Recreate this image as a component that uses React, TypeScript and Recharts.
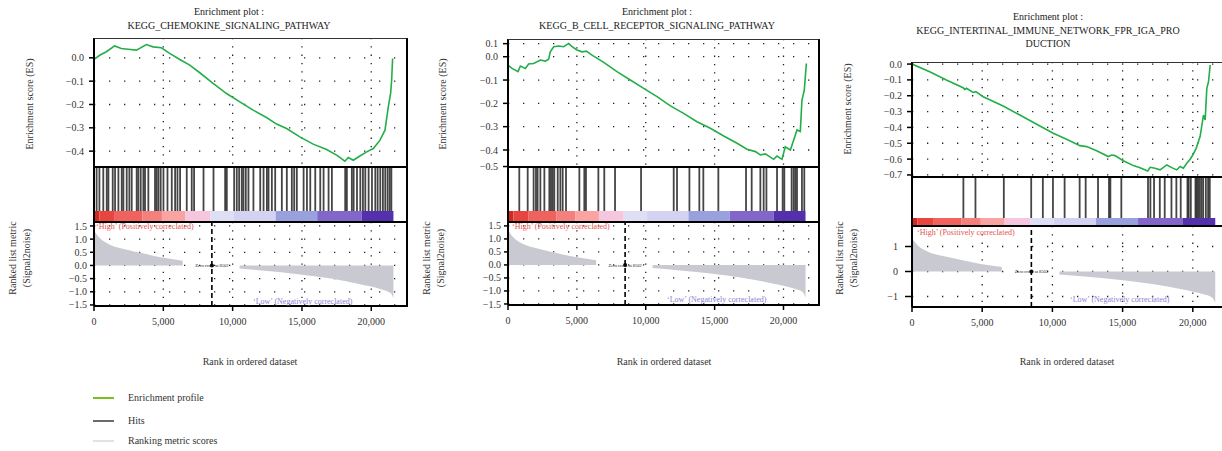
import React from "react"
import {
  Area,
  CartesianGrid,
  ComposedChart,
  Line,
  LineChart,
  ReferenceArea,
  ReferenceDot,
  ReferenceLine,
  XAxis,
  YAxis,
} from "recharts"

const FONT = '"Liberation Serif", "DejaVu Serif", serif'

// shared x axis (rank in ordered dataset)
const xTicks = [0, 5000, 10000, 15000, 20000]
const xMax = 22650

// ranked list metric (same list in all three plots)
const metricRanks = [0, 400, 1100, 2300, 3600, 4800, 6400, 8502, 10500, 12300, 14700, 17100, 19100, 20700, 21400, 21600]
const metricValues = [1.33, 1.05, 0.8, 0.61, 0.45, 0.31, 0.18, null, -0.12, -0.2, -0.33, -0.5, -0.7, -0.9, -1.05, -1.25]

// colour band under the hits
const bandStops = [0, 400, 1500, 3500, 4900, 6600, 8400, 10100, 13100, 16100, 19300, 21600]
const bandColors = ["#cf2a22", "#e9453f", "#f1625e", "#f47f7d", "#f9a3a2", "#f5c6dd", "#dedff5", "#d3d2f2", "#98a0dd", "#8366c9", "#5530ae"]

// plot 1: chemokine
const es1Ranks = [0, 410, 890, 1490, 1970, 2460, 3060, 3780, 4260, 4860, 5460, 6190, 6910, 7630, 8590, 9560, 10520, 11480, 12440, 13170, 13890, 14850, 15810, 16780, 17500, 18100, 18340, 18700, 19180, 19670, 20150, 20630, 20990, 21230, 21400, 21470, 21540]
const es1Scores = [-0.007, 0.011, 0.026, 0.051, 0.04, 0.037, 0.033, 0.057, 0.047, 0.043, 0.019, -0.007, -0.031, -0.064, -0.11, -0.153, -0.189, -0.224, -0.256, -0.284, -0.303, -0.339, -0.37, -0.393, -0.417, -0.443, -0.427, -0.439, -0.421, -0.403, -0.389, -0.353, -0.31, -0.21, -0.15, -0.096, -0.003]
const hits1 = [190, 390, 670, 920, 1040, 1350, 1520, 1760, 2000, 2120, 2360, 2550, 2720, 3080, 3200, 3370, 3560, 3680, 3920, 4400, 4520, 4650, 4810, 5010, 5300, 5610, 5850, 6020, 6210, 6690, 7050, 7220, 7900, 8620, 9460, 9580, 10110, 10300, 10470, 10660, 10780, 10950, 11140, 11500, 11990, 12230, 12470, 12590, 12830, 13070, 13550, 13910, 14270, 14440, 14630, 15120, 15360, 15600, 15960, 16320, 16560, 16920, 17160, 18120, 18240, 18600, 18730, 18970, 19210, 19400, 19570, 19810, 20050, 20290, 20460, 20650, 20840, 21010, 21180, 21330, 21450]
const es1Ticks = [0, -0.1, -0.2, -0.3, -0.4]
const es1Labels = ["0.0", "\u22120.1", "\u22120.2", "\u22120.3", "\u22120.4"]

// plot 2: B cell receptor
const es2Ranks = [0, 290, 730, 900, 1260, 1500, 1860, 2350, 2710, 2950, 3070, 3320, 3680, 4040, 4400, 4650, 5010, 5370, 5690, 6100, 6950, 7910, 8880, 9850, 10820, 11790, 12750, 13720, 14690, 15660, 16630, 17350, 17960, 18320, 18680, 19290, 19530, 19890, 20130, 20500, 20740, 20980, 21220, 21340, 21510, 21660]
const es2Scores = [-0.036, -0.05, -0.064, -0.04, -0.05, -0.031, -0.029, -0.014, -0.019, -0.011, 0.021, 0.043, 0.046, 0.043, 0.057, 0.043, 0.029, 0.021, 0.024, 0.007, -0.024, -0.064, -0.1, -0.136, -0.171, -0.211, -0.243, -0.279, -0.307, -0.34, -0.371, -0.397, -0.407, -0.421, -0.417, -0.44, -0.426, -0.44, -0.386, -0.4, -0.357, -0.314, -0.321, -0.186, -0.143, -0.029]
const hits2 = [820, 1430, 1860, 2030, 2150, 2350, 2640, 3000, 3120, 3240, 3360, 3610, 3800, 3970, 4210, 5180, 5540, 5660, 6560, 6990, 7770, 9660, 12030, 12270, 13170, 13890, 14180, 15270, 17280, 17690, 18320, 18560, 18760, 19530, 19940, 20060, 20590, 20740, 20860, 20980, 21340, 21510]
const es2Ticks = [0.056, 0, -0.1, -0.2, -0.3, -0.4, -0.471]
const es2Labels = ["0.1", "0.0", "\u22120.1", "\u22120.2", "\u22120.3", "\u22120.4", "\u22120.5"]

// plot 3: intestinal immune network
const es3Ranks = [0, 1260, 2450, 3640, 3760, 3880, 4350, 4540, 5070, 6490, 7680, 9110, 10060, 11010, 11960, 12440, 13150, 13980, 14220, 14460, 15050, 15770, 16240, 16790, 16960, 17310, 17670, 18150, 18500, 18860, 19100, 19330, 19570, 19810, 20000, 20240, 20520, 20760, 20880, 21000, 21120, 21240]
const es3Scores = [0.0, -0.048, -0.101, -0.149, -0.16, -0.153, -0.179, -0.174, -0.206, -0.265, -0.322, -0.391, -0.437, -0.475, -0.515, -0.521, -0.547, -0.584, -0.574, -0.578, -0.61, -0.641, -0.654, -0.675, -0.652, -0.658, -0.668, -0.637, -0.654, -0.668, -0.647, -0.658, -0.626, -0.601, -0.574, -0.532, -0.458, -0.322, -0.353, -0.153, -0.111, -0.006]
const hits3 = [3660, 4520, 6540, 8490, 9320, 10040, 10870, 11940, 12370, 13250, 14030, 14130, 14910, 16810, 16980, 17240, 17650, 18000, 18480, 18830, 19140, 19620, 19710, 19860, 20190, 20280, 20380, 20500, 20620, 20740, 20930, 21090, 21210]
const es3Ticks = [0, -0.1, -0.2, -0.3, -0.4, -0.5, -0.6, -0.7]
const es3Labels = ["0.0", "\u22120.1", "\u22120.2", "\u22120.3", "\u22120.4", "\u22120.5", "\u22120.6", "\u22120.7"]

const rankTicksA = [1.5, 1, 0.5, 0, -0.5, -1, -1.5]
const rankLabelsA = ["1.5", "1.0", "0.5", "0.0", "\u22120.5", "\u22121.0", "\u22121.5"]
const rankTicksB = [1, 0, -1]
const rankLabelsB = ["1", "0", "\u22121"]

const panels = [
  {
    title: ["Enrichment plot :", "KEGG_CHEMOKINE_SIGNALING_PATHWAY"], titleCx: 229, titleY: 12,
    left: 94.3, width: 314, esTop: 38, esBottom: 167, hitsBottom: 222, barH: 11, rankBottom: 306,
    esRanks: es1Ranks, esScores: es1Scores, hits: hits1,
    esDomain: [-0.468, 0.085], esTicks: es1Ticks, esLabels: es1Labels,
    rankDomain: [-1.54, 1.65], rankTicks: rankTicksA, rankLabels: rankLabelsA,
    esLab: [30, 104], rankLab: [20, 258], high: [96, 227], low: [253, 302], axisCx: 250, tickSize: 5, rankTickSize: 4,
  },
  {
    title: ["Enrichment plot :", "KEGG_B_CELL_RECEPTOR_SIGNALING_PATHWAY"], titleCx: 657, titleY: 12,
    left: 507.7, width: 312, esTop: 39, esBottom: 167, hitsBottom: 222, barH: 11, rankBottom: 305,
    esRanks: es2Ranks, esScores: es2Scores, hits: hits2,
    esDomain: [-0.473, 0.076], esTicks: es2Ticks, esLabels: es2Labels,
    rankDomain: [-1.54, 1.65], rankTicks: rankTicksA, rankLabels: rankLabelsA,
    esLab: [443, 104], rankLab: [434, 258], high: [512, 227], low: [667, 300], axisCx: 664, tickSize: 5, rankTickSize: 4,
  },
  {
    title: ["Enrichment plot :", "KEGG_INTERTINAL_IMMUNE_NETWORK_FPR_IGA_PRO", "DUCTION"], titleCx: 1048, titleY: 17,
    left: 912.3, width: 318, esTop: 62, esBottom: 177, hitsBottom: 226, barH: 8, rankBottom: 307,
    esRanks: es3Ranks, esScores: es3Scores, hits: hits3,
    esDomain: [-0.713, 0.013], esTicks: es3Ticks, esLabels: es3Labels,
    rankDomain: [-1.42, 1.82], rankTicks: rankTicksB, rankLabels: rankLabelsB,
    esLab: [848, 109], rankLab: [847, 258], high: [917, 233], low: [1070, 300], axisCx: 1067, tickSize: 5, rankTickSize: 7,
  },
]

const tickStyle = { fill: "#333", fontSize: 10, fontFamily: FONT }
const YW = 60
const noMargin = { top: 0, right: 0, bottom: 0, left: 0 }

function Txt({ x, y, children, size = 10, color = "#222", anchor = "center" }: any) {
  const style: any = {
    position: "absolute", top: y - size * 0.6, fontSize: size, color, whiteSpace: "nowrap", lineHeight: 1.2,
  }
  if (anchor === "center") {
    style.left = x - 250
    style.width = 500
    style.textAlign = "center"
  } else {
    style.left = x
  }
  return <div style={style}>{children}</div>
}

function Vertical({ x, y, lines }: any) {
  return (
    <div
      style={{
        position: "absolute", left: x, top: y, transform: "translate(-50%, -50%) rotate(-90deg)",
        whiteSpace: "nowrap", textAlign: "center", fontSize: 10, lineHeight: "14px", color: "#333",
      }}
    >
      {lines.map((l: string) => <div key={l}>{l}</div>)}
    </div>
  )
}

function Panel({ p }: any) {
  const esH = p.esBottom - p.esTop
  const hitsH = p.hitsBottom - p.esBottom
  const rankH = p.rankBottom - p.hitsBottom
  const chartLeft = p.left - YW
  const chartW = YW + p.width
  const barFrac = p.barH / hitsH
  const esRows = p.esRanks.map((r: number, i: number) => ({ rank: r, es: p.esScores[i] }))
  const hitRows = p.hits.map((h: number) => ({ rank: h, v: 1 }))
  const rankRows = metricRanks.map((r, i) => ({ rank: r, metric: metricValues[i] }))
  const fmt = (ticks: number[], labels: string[]) => (v: number) => labels[ticks.indexOf(v)] ?? String(v)

  return (
    <>
      {p.title.map((t: string, i: number) => (
        <Txt key={t} x={p.titleCx} y={p.titleY + i * 13.5}>{t}</Txt>
      ))}

      <div style={{ position: "absolute", left: chartLeft, top: p.esTop }}>
        <LineChart width={chartW} height={esH} data={esRows} margin={noMargin}>
          <CartesianGrid horizontal={false} verticalValues={xTicks} stroke="#222" strokeWidth={1.3} strokeDasharray="1.3 7" />
          <CartesianGrid vertical={false} horizontalValues={p.esTicks} stroke="#222" strokeWidth={1.3} strokeDasharray="1.3 13.7" />
          <XAxis type="number" dataKey="rank" domain={[0, xMax]} allowDataOverflow hide height={0} />
          <YAxis
            type="number" domain={p.esDomain} allowDataOverflow ticks={p.esTicks} interval={0} width={YW}
            tickFormatter={fmt(p.esTicks, p.esLabels)} tick={tickStyle}
            axisLine={{ stroke: "#000", strokeWidth: 2 }} tickLine={{ stroke: "#000", strokeWidth: 1.5 }}
            tickSize={p.tickSize} tickMargin={5}
          />
          <Line type="linear" dataKey="es" stroke="#22ae48" strokeWidth={1.6} dot={false} isAnimationActive={false} />
        </LineChart>
      </div>

      <div style={{ position: "absolute", left: chartLeft, top: p.esBottom }}>
        <ComposedChart width={chartW} height={hitsH} data={hitRows} margin={{ top: 0, right: 0, bottom: 0, left: YW }}>
          <XAxis type="number" dataKey="rank" domain={[0, xMax]} allowDataOverflow hide height={0} />
          <YAxis type="number" domain={[0, 1]} allowDataOverflow hide width={0} />
          {p.hits.map((h: number) => (
            <ReferenceLine
              key={h}
              segment={[{ x: h, y: barFrac }, { x: h, y: 1 }]}
              stroke="#111" strokeOpacity={0.78} strokeWidth={1.8}
            />
          ))}
          {bandColors.map((c, i) => (
            <ReferenceArea
              key={c + i}
              x1={bandStops[i]} x2={bandStops[i + 1]} y1={0} y2={barFrac}
              fill={c} fillOpacity={1} stroke="none"
            />
          ))}
        </ComposedChart>
      </div>

      <div style={{ position: "absolute", left: chartLeft, top: p.hitsBottom }}>
        <ComposedChart width={chartW} height={rankH + 30} data={rankRows} margin={noMargin}>
          <CartesianGrid horizontal={false} verticalValues={xTicks} stroke="#222" strokeWidth={1.3} strokeDasharray="1.3 7" />
          <CartesianGrid vertical={false} horizontalValues={p.rankTicks} stroke="#222" strokeWidth={1.3} strokeDasharray="1.3 13.7" />
          <XAxis
            type="number" dataKey="rank" domain={[0, xMax]} allowDataOverflow ticks={xTicks} interval={0} height={30}
            tickFormatter={(v: number) => v.toLocaleString("en-US")} tick={tickStyle}
            axisLine={{ stroke: "#000", strokeWidth: 2 }} tickLine={{ stroke: "#000", strokeWidth: 1.5 }}
            tickSize={5} tickMargin={7}
          />
          <YAxis
            type="number" domain={p.rankDomain} allowDataOverflow ticks={p.rankTicks} interval={0} width={YW}
            tickFormatter={fmt(p.rankTicks, p.rankLabels)} tick={tickStyle}
            axisLine={{ stroke: "#000", strokeWidth: 2 }} tickLine={{ stroke: "#000", strokeWidth: 1.5 }}
            tickSize={p.rankTickSize} tickMargin={p.rankTickSize > 5 ? 7 : 3}
          />
          <Area
            type="monotone" dataKey="metric" baseValue={0} connectNulls={false}
            stroke="none" fill="#c9c9d1" fillOpacity={1} isAnimationActive={false}
          />
          <ReferenceLine x={8502} stroke="#000" strokeWidth={1.6} strokeDasharray="5 3" />
          <ReferenceDot
            x={8502} y={0} r={2} fill="#000" stroke="none"
            label={{ value: "Zero cross at 8502", position: "center", fontSize: 4.5, fill: "#222", fontFamily: FONT }}
          />
        </ComposedChart>
      </div>

      {/* frame and panel separators */}
      <div
        style={{
          position: "absolute", left: p.left - 1, top: p.esTop, width: p.width + 1, height: p.rankBottom - p.esTop,
          borderTop: "1px solid #333", borderRight: "2px solid #000", borderLeft: "2px solid #000",
          boxSizing: "border-box", pointerEvents: "none",
        }}
      />
      <div style={{ position: "absolute", left: p.left, top: p.esBottom - 1, width: p.width, height: 2, background: "#000" }} />
      <div style={{ position: "absolute", left: p.left, top: p.hitsBottom - 1, width: p.width, height: 2, background: "#000" }} />

      <Txt x={p.high[0]} y={p.high[1]} size={8} color="#e5524b" anchor="left">{"\u2018High\u2019 (Positively correclated)"}</Txt>
      <Txt x={p.low[0]} y={p.low[1]} size={8} color="#8a7fd6" anchor="left">{"\u2018Low\u2019 (Negatively correclated)"}</Txt>

      <Vertical x={p.esLab[0]} y={p.esLab[1]} lines={["Enrichment score (ES)"]} />
      <Vertical x={p.rankLab[0]} y={p.rankLab[1]} lines={["Ranked list metric", "(Signal2noise)"]} />
      <Txt x={p.axisCx} y={362} color="#333">Rank in ordered dataset</Txt>
    </>
  )
}

const legendItems = ["Enrichment profile", "Hits", "Ranking metric scores"]
const legendColors = ["#78c01e", "#6d6a6d", "#e2e2e2"]
const legendY = [398, 421, 441]

export default function App() {
  return (
    <div
      style={{
        position: "absolute", left: 0, top: 0, width: 1222, height: 451, overflow: "hidden",
        background: "#fff", fontFamily: FONT, color: "#222",
      }}
    >
      <style>{"svg.recharts-surface { overflow: visible; }"}</style>
      {panels.map((p, i) => <Panel key={i} p={p} />)}
      {legendItems.map((name, i) => (
        <React.Fragment key={name}>
          <div style={{ position: "absolute", left: 93, top: legendY[i] - 1, width: 21, height: 2, background: legendColors[i] }} />
          <Txt x={128} y={legendY[i]} anchor="left" color="#333">{name}</Txt>
        </React.Fragment>
      ))}
    </div>
  )
}
